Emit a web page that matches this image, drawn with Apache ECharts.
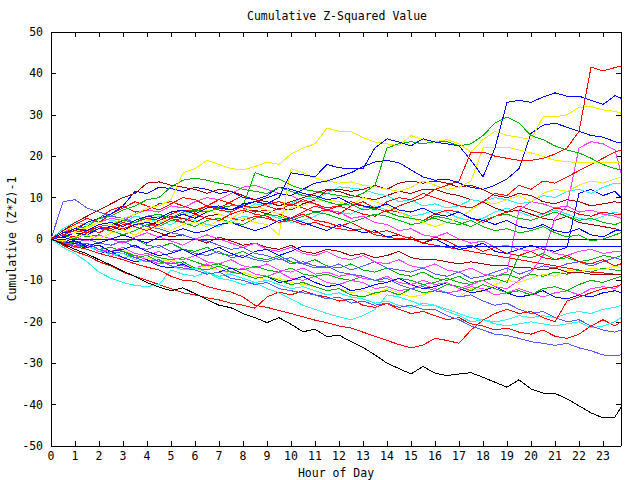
<!DOCTYPE html>
<html lang="en">
<head>
  <meta charset="UTF-8">
  <script src="https://cdn.jsdelivr.net/npm/echarts@6/dist/echarts.min.js"></script>
  <style>
    body { margin: 0; background: #fff; }
    #container { width: 640px; height: 480px; }
    /* gnuplot style: hard pixel lines */
    #container svg path { shape-rendering: crispEdges; }
  </style>
</head>
<body>
  <div id="container"></div>
  <script>
    // hour of day, half-hour steps
    var hours = [0, 0.5, 1, 1.5, 2, 2.5, 3, 3.5, 4, 4.5, 5, 5.5,
      6, 6.5, 7, 7.5, 8, 8.5, 9, 9.5, 10, 10.5, 11, 11.5,
      12, 12.5, 13, 13.5, 14, 14.5, 15, 15.5, 16, 16.5, 17, 17.5,
      18, 18.5, 19, 19.5, 20, 20.5, 21, 21.5, 22, 22.5, 23, 23.5,
      23.75];
    var yTicks = [-50, -40, -30, -20, -10, 0, 10, 20, 30, 40, 50];

    // cumulative (Z*Z)-1, one array per line
    var black1 = [0, -1.2, -2.5, -3.6, -5, -6.3, -7.8, -9, -10.5, -11.6, -12.5, -11.8,
      -13.2, -14.6, -16, -16.6, -18, -19, -20.2, -19, -20.6, -22.4, -21.8, -23.6,
      -23.2, -24.8, -26.2, -28, -30, -31.3, -32.6, -30.8, -32.4, -33, -32.6, -32.3,
      -33.4, -34.6, -35.8, -34, -36.2, -37.2, -37.3, -38.6, -40.3, -42, -43.2, -43,
      -40.6];
    var red42 = [0, 1, 2, 1.5, 3, 2.5, 4, 3, 2, 3.5, 5, 4,
      6, 5, 4.5, 6, 7, 6, 5.5, 4, 5, 6.5, 8, 7,
      6, 8, 9, 7.5, 6.5, 8, 9, 10, 12, 13, 14, 21,
      21, 20, 19.5, 19, 19, 19.5, 20.5, 22, 26, 41.5, 40.6, 41.4,
      41.8];
    var blue34 = [0, 1, 2.5, 2, 3.5, 4, 3, 4.5, 5.5, 5, 6.5, 7,
      6, 7.5, 8, 7, 8.5, 9, 8.5, 10, 16, 15.5, 15, 18,
      17.2, 17, 17, 22, 24.2, 23.4, 22.5, 24.2, 23.4, 23, 22.5, 19,
      15, 22, 33, 33.5, 33, 34.3, 35.3, 34.5, 34.5, 33.5, 32.5, 34.6,
      34];
    var yellow1 = [0, 1, 1.5, 3, 4, 3.5, 5, 6, 7.5, 8, 9.5, 16,
      17, 19, 18, 17, 16.7, 17.5, 18.6, 18, 20.5, 22, 23, 26.8,
      26, 26, 24.5, 23.4, 23, 22.5, 25, 24, 23.5, 24, 23, 21,
      24, 26, 25, 24.6, 24, 29.5, 29.5, 30, 31.8, 32, 31.2, 30.8,
      30.4];
    var green1 = [0, 1, 2, 1.5, 3, 3.5, 4.5, 4, 5.5, 6, 5, 6.5,
      7, 6.5, 7.5, 8, 8, 16, 15, 14.5, 13, 12, 11.5, 11,
      10.5, 10, 11, 13, 22, 23, 23.5, 23, 23.5, 23.5, 22.5, 23,
      25, 28, 29.5, 28, 25, 24, 22.5, 21.5, 20.8, 19.5, 18, 17,
      16.7];
    var yellow2 = [0, -0.5, 0.5, 1, 0, 1.5, 2, 1, 2.5, 3, 2, 3.5,
      4, 3, 4.5, 4, 5, 4, 3.5, 1, 17, 16, 14.7, 14,
      13.5, 13.8, 13, 12.6, 12, 11.5, 12.5, 14, 13, 12, 12.5, 14,
      22, 22, 22.2, 21.5, 20.8, 20, 19, 18.7, 18.4, 18.4, 18.5, 18.4,
      18.4];
    var redLow = [0, -1, -1.8, -2.5, -3.5, -4.2, -5, -6, -6.8, -7.5, -9, -10,
      -10.2, -11.5, -12.2, -12.8, -14, -16, -16.5, -17.3, -18, -18.8, -19.6, -20.2,
      -21, -21.5, -22.5, -23.5, -24.5, -25.5, -26.3, -25.6, -24, -24.5, -25.2, -22,
      -19.6, -18, -17, -18, -17.5, -19, -20, -15, -14, -13, -12, -11.5,
      -11];
    var lightBlue1 = [0, -0.8, -1.5, -1, -2.5, -3.5, -3, -4.5, -5.5, -5, -6.5, -7,
      -7.5, -8.5, -8, -9.5, -10, -11, -10.5, -12, -12.5, -13, -13.5, -14.5,
      -14, -15.5, -15, -16, -15.5, -16.5, -16, -17, -17, -18.5, -19.5, -21,
      -22, -23, -23.3, -24, -24.8, -25.2, -25.7, -25.2, -26.3, -27, -28, -28.2,
      -28];
    var lightBlue2 = [0, 9, 9.5, 7.5, 6.5, 5.5, 5, 4, 3, 2.5, 1.5, 1,
      0, -0.5, -1.5, -2.5, -2, -3.5, -4, -5, -4.5, -6, -7, -6.5,
      -8, -8.5, -9, -10, -9.5, -11, -12, -11.5, -12.5, -13, -14, -13.5,
      -15, -16, -15.5, -17, -18, -17.5, -19, -20, -19.5, -21, -22, -22.5,
      -22];
    var cyan1 = [0, -2, -3.5, -5.5, -8, -9.5, -10.5, -11.2, -11.5, -11, -7.5, -8.5,
      -9, -8, -9.5, -10, -11, -10.5, -12, -13, -14.5, -16, -17, -18,
      -18.8, -19.5, -18.5, -17, -13.5, -14, -15, -16, -16, -17.5, -18.5, -20,
      -19.5, -20.5, -21, -20.5, -20, -20.5, -21, -20.5, -20, -21.5, -21, -20,
      -19];
    var red2 = [0, -1.5, -3, -4, -5.5, -6.5, -8, -9, -10, -11, -12, -13,
      -13.5, -14.2, -14.7, -15.5, -16, -16.7, -14, -12.8, -13.5, -12.5, -13.5, -14,
      -15, -14.5, -16, -16.5, -15.5, -17, -18, -17.5, -18.5, -19.5, -19, -20.5,
      -21, -22, -21.5, -22.5, -23, -22, -23.5, -24, -23, -21, -19.5, -21,
      -20];
    var darkRed1 = [0, 2, 4, 5.5, 7, 8.5, 10, 11, 13.5, 13.8, 13, 12.5,
      12, 11, 12, 11.5, 10.5, 9.5, 9, 8, 9, 10, 11, 12,
      12, 11.5, 12, 13, 12, 13.5, 14, 13.5, 14, 13.5, 12.5, 13,
      12, 10.5, 10, 11, 10.5, 9, 8.5, 9.5, 9, 8, 8.5, 9,
      8.7];
    var green2 = [0, 1, 2.5, 3, 5, 5.5, 7, 8, 9.5, 10, 12.6, 14.2,
      14.7, 14.2, 13.5, 13, 12, 11.5, 11, 12.5, 11.5, 10.5, 10, 9,
      8.2, 8.5, 7, 7.5, 6.5, 5.5, 5, 4.5, 5, 4, 3.5, 4.5,
      3, 2, 2.5, 1.5, 2, 3, 1.5, 0.5, 1, -0.5, 0, 1,
      1.5];
    var blue3 = [0, 1.5, 2, 4, 5, 6, 8, 11.5, 11, 12.5, 12.2, 11.5,
      12.5, 12, 11, 11.5, 10, 9.5, 10.5, 12.5, 12, 11, 10.5, 9.5,
      10, 8.5, 8, 7.5, 8.5, 7, 6.5, 7.5, 6, 5.5, 6.5, 5,
      4.5, 3.5, 4.5, 3, 2.5, 3.5, 2, 1.5, 2.5, 1, 0.5, 2,
      2];
    var blueZero = [0, 0, 0, 0, 0, 0, 0, 0, 0, 0, 0, 0,
      0, 0, 0, 0, 0, 0, 0, 0, 0, 0, 0, 0,
      0, 0, 0, 0, 0, 0, 0, 0, 0, 0, 0, 0,
      0, 0, 0, 0, 0, 0, 0, 0, 0, 0, 0, 0,
      0];
    var blueFlat = [0, -1, -0.5, -2, -1.5, -3, -2.5, -1.5, -3, -4, -3.5, -2.5,
      -4, -3, -2, -3.5, -4.5, -3, -2.5, -4, -3, -1.7, -1.7, -1.7,
      -1.7, -1.7, -1.7, -1.7, -1.7, -1.7, -1.7, -1.7, -1.7, -1.7, -1.7, -1.7,
      -1.7, -1.7, -1.7, -1.7, -1.7, -1.7, -1.7, -1.7, -1.7, -1.7, -1.7, -1.7,
      -1.7];
    var blue2 = [0, 0.5, 1.5, 1, 2.5, 3, 2, 3.5, 4, 3.5, 5, 6,
      5, 6.5, 7.5, 7, 8, 9, 10, 11, 10.5, 12, 13.5, 14,
      15, 16, 17.5, 18.6, 19, 18.4, 16.7, 15, 14.2, 14.5, 13.5, 12.5,
      12, 13, 14.5, 17, 25.5, 27.5, 28, 27, 26, 25, 24.6, 23.5,
      23.2];
    var red3 = [0, 1, 0.5, 2, 3, 2, 3.5, 4, 5, 4.5, 6, 7,
      6.5, 8, 7, 6.5, 8, 7.5, 8.5, 9, 8, 9.5, 8.5, 7.5,
      8, 9, 8, 7, 9, 10, 9.5, 11, 10, 9, 8, 7.5,
      9, 11, 10.5, 13, 12, 14, 13.5, 15, 16.5, 18, 19.5, 21,
      21.5];
    var yellow3 = [0, 2, 3, 2.5, 4, 3.5, 2, 3, 4.5, 4, 5, 6,
      5.5, 7, 6, 5, 6.5, 8, 7, 6, 7.5, 8, 9, 9.5,
      9, 8, 10, 9, 8, 6.5, 5, 4, 3, 4, 5, 7,
      9, 8.5, 9.5, 10.5, 9, 11, 12, 11.5, 13, 14, 13.5, 14.5,
      15];
    var magenta1 = [0, -0.5, -1.5, -1, -2.5, -3, -2, -3.5, -4, -3, -4.5, -5,
      -4, -5.5, -6, -5, -6.5, -7, -6, -7.5, -8, -7, -8.5, -8,
      -9, -8.5, -9.5, -10, -9, -10.5, -11, -10, -11, -10.5, -12, -11,
      -10, -11.5, -12, -10, -8, -4, 5, 8, 22, 23.5, 23, 21.5,
      16];
    var magenta2 = [0, 1, 0.5, -0.5, 1, 0, -1, 0.5, 1.5, 0.5, -0.5, -1.5,
      0, 1, 0, -1, -2, -1, -2.5, -3, -2, -3.5, -4, -3,
      -4.5, -5, -4, -5.5, -6, -5, -6.5, -7, -6, -7.5, -8, -7,
      -8.5, -9, -8, 7, 9, 8.5, 7.5, 8, 6.5, 7, 6, 5.5,
      5];
    var cyan3 = [0, 1, 2, 1.5, 3, 2.5, 4, 3, 4.5, 5.5, 5, 6,
      7, 6.5, 7.5, 6, 7, 8.5, 8, 9, 8.5, 10, 9.5, 11,
      12.6, 12.3, 12, 11, 10.5, 9, 9.5, 8, 8.5, 7.5, 8, 9.5,
      9, 10, 9.5, 8.5, 9, 10.5, 10, 11.5, 12, 11, 12.5, 13.5,
      13.5];
    var cyan4 = [0, -1, -0.5, -2, -2.5, -4, -3.5, -5, -5.5, -5, -6.5, -7.5,
      -7, -8, -9, -8.5, -9.5, -10.5, -10, -11, -12, -11.5, -12.5, -13.5,
      -13, -14, -14.5, -15.5, -15, -16, -16.5, -15.5, -16, -17, -18, -19,
      -19.5, -20, -19.5, -18.5, -19, -18.5, -19, -18, -17.5, -18, -17, -16.5,
      -16];
    var green3 = [0, -0.5, -1.5, -2, -1.5, -3, -3.5, -4.5, -4, -5.5, -6, -5.5,
      -7, -7.5, -6.5, -8, -8.5, -9.5, -9, -10, -11, -10.5, -11.5, -12.5,
      -12, -13.5, -14, -13, -12.5, -13.5, -12, -13, -12.5, -11, -11.5, -12.5,
      -11, -12, -13, -12.5, -13.5, -12, -11.5, -12.5, -11, -10, -10.5, -9.5,
      -9];
    var green4 = [0, 1, 0, 1.5, 2.5, 2, 1, 2, 3.5, 3, 4.5, 4,
      3, 4.5, 5, 4, 3.5, 5, 6, 5.5, 4.5, 5.5, 6.5, 6,
      5, 4, 5, 6, 5.5, 4.5, 3.5, 4, 5.5, 5, 4, 3,
      4.5, 5.5, 6, 5, 4.5, 5.5, 6.5, 5.5, 4.5, 5, 4, 3.5,
      4];
    var red4 = [0, 1.5, 2.5, 4, 5, 7, 8, 6.5, 7, 8.5, 9, 8,
      7, 8, 9.5, 8.5, 7.5, 6.5, 7, 6, 5, 6, 4.5, 4,
      3, 4, 2.5, 1.5, 2, 1, 0, -1, 0.5, -0.5, -2, -1.5,
      -3, -2, -3.5, -4, -3, -4.5, -5, -4, -5.5, -6, -5, -6.5,
      -6];
    var red5 = [0, 2, 3.5, 5, 4, 6, 7.5, 9, 8, 7, 8.5, 10,
      9.5, 8, 7.5, 9, 10.5, 9.5, 8, 7, 8.5, 7.5, 6.5, 7,
      8, 7, 6, 5.5, 7, 6.5, 5, 4.5, 6, 7, 6.5, 5,
      4, 5.5, 6.5, 8, 7, 6, 7.5, 7, 6, 5.5, 6.5, 6,
      6];
    var darkRed2 = [0, -1, 0.5, 1, 0, 1.5, 2, 1, 2.5, 1.5, 0.5, 1,
      0, -1, 0.5, -0.5, -1.5, -1, -2, -2.5, -1.5, -3, -3.5, -2.5,
      -3, -4, -3.5, -4.5, -4, -3, -4.5, -5, -5, -5.5, -6, -5.5,
      -6, -6.5, -6.5, -7, -7, -7.5, -7, -8, -8, -8.5, -8.5, -8.5,
      -8.7];
    var darkRed3 = [0, 1, 2.5, 2, 3.5, 3, 4.5, 4, 3, 4.5, 5.5, 5,
      4, 5.5, 6, 5, 6.5, 7, 6, 7.5, 7, 8.5, 9.4, 11.8,
      11.5, 10.5, 10, 9.5, 10.5, 11.5, 11, 12, 12, 11, 10.5, 9.5,
      9, 7.5, 6.5, 7, 6, 5, 4.5, 5.5, 4, 3.5, 3, 2.5,
      2];
    var magenta3 = [0, -1, -2, -1.5, -3, -3.5, -4.5, -4, -5, -6, -5.5, -6.5,
      -7, -6, -7.5, -8, -7, -8.5, -9, -8, -9.5, -10, -9, -10.5,
      -11, -10, -10.5, -12, -11.5, -12.5, -12, -11, -12, -13, -12.5, -11.5,
      -12, -13.5, -13, -12, -13, -14, -13, -12.5, -13.5, -12, -11.5, -12,
      -11];
    var magenta4 = [0, 1.5, 3, 2.5, 4, 5, 4.5, 6, 7, 6.5, 8, 7.5,
      9, 10, 9.5, 11, 12.5, 13, 12, 11, 10.5, 9, 8.5, 7,
      6.5, 5, 5.5, 4, 3.5, 2, 2.5, 1, 0.5, 1.5, 0, -1,
      -0.5, -2, -1.5, -2.5, -3, -2, -3.5, -4, -3, -2.5, -3.5, -3,
      -3];
    var blue4 = [0, -1.5, -1, -2.5, -3.5, -3, -4.5, -5.5, -5, -6.5, -7, -6,
      -7.5, -8.5, -8, -7, -8.5, -9.5, -9, -10.5, -10, -9, -10.5, -11.5,
      -11, -12.5, -12, -11, -10.5, -9.5, -11, -12, -11.5, -10.5, -12, -13,
      -12.5, -11.5, -13, -14, -13.5, -12.5, -14, -14.5, -13.5, -14, -13, -12.5,
      -13];
    var blue5 = [0, 0.5, -0.5, -1.5, -1, 0, 1, 0, -1, 0.5, 1.5, 2.5,
      1.5, 2, 3.5, 4, 3, 2, 3, 4.5, 5, 4, 3, 2,
      3.5, 2.5, 1.5, 2, 0.5, 1, 0, -1, 0, -1.5, -2.5, -2,
      -1, -3, -3.5, -2.5, -1.5, -2.5, -3, -2, 11, 12, 10.5, 11.5,
      10];
    var green5 = [0, -0.5, -1, -2, -2.5, -2, -3, -4, -3.5, -4.5, -5, -4.5,
      -5.5, -6.5, -6, -7, -7.5, -6.5, -7.5, -8, -7, -8.5, -9, -8.5,
      -9.5, -10, -9, -10, -10.5, -9.5, -10, -11, -10.5, -9.5, -10.5, -11,
      -10, -9.5, -10.5, -4, -4.5, -3.5, -5, -4.5, -5.5, -5, -4, -4.5,
      -4];
    var yellow4 = [0, -0.5, -1.5, -1, -2.5, -3, -2.5, -4, -4.5, -5.5, -5, -6,
      -7, -6.5, -7.5, -8.5, -8, -9, -10, -9.5, -10.5, -11, -11.5, -12.5,
      -12, -13, -12.5, -13.5, -12, -13, -14, -13.5, -12.5, -13, -14, -12,
      -12.5, -11, -10, -10.5, -9.5, -8.5, -9, -7.5, -8, -7, -7.5, -6.5,
      -7];
    var red6 = [0, 0.5, 1.5, 2.5, 1.5, 3, 2.5, 3.5, 4, 3, 4.5, 5,
      4, 5.5, 6, 5, 4.5, 5.5, 5, 4, 4.5, 3.5, 4, 3,
      2.5, 2, 2.5, 1, 0.5, 0, 0.5, -1, -1.5, -2, -2.5, -3,
      -3.5, -4, -4.5, -5, -5.5, -6, -6.5, -7, -7.5, -8, -8.2, -8.5,
      -8.7];
    var cyan5 = [0, 2.5, 4, 3.5, 5, 4.5, 4, 5.5, 5, 4, 3.5, 5,
      4.5, 3.5, 3, 4.5, 5.5, 5, 6, 5, 4, 4.5, 5.5, 7,
      6.5, 6, 7.5, 8, 7, 6.5, 5.5, 6, 7, 6.5, 5, 4.5,
      5, 6.5, 7.5, 6.5, 5.5, 6, 7, 6, 5, 4.5, 5.5, 6.5,
      6];
    var lightBlue3 = [0, -0.5, -1, 0, -1, -1.5, -0.5, -2, -2.5, -1.5, -3, -2.5,
      -3.5, -4, -3, -4.5, -4, -5, -5.5, -4.5, -6, -5.5, -6.5, -7,
      -6, -7.5, -6.5, -5.5, -7, -7.5, -8, -7, -8.5, -9, -8, -9.5,
      -9, -8, -7, -8.5, -7.5, -6.5, -7, -6, -5.5, -6.5, -5.5, -4.5,
      -5];
    var green6 = [0, 1, 1.5, 0.5, 1, 0, -1, 0, -1.5, -2, -1, -2.5,
      -3, -2, -3.5, -4, -3, -4.5, -5, -4, -5.5, -6, -5, -6.5,
      -7, -6, -7.5, -8, -7, -8.5, -9, -8, -9.5, -10, -9, -10.5,
      -10, -9, -8.5, -9.5, -8.5, -9, -8, -8.5, -7.5, -8, -7, -7.5,
      -7.5];

    var RED = '#ff0000', GREEN = '#00b000', BLUE = '#0000ff', MAGENTA = '#ff40ff',
      CYAN = '#30f0f0', DARKRED = '#a00000', YELLOW = '#f0f000', BLACK = '#000000',
      LBLUE = '#5a5aff';

    var lines = [
      [magenta3, MAGENTA], [green6, GREEN], [lightBlue3, LBLUE], [cyan5, CYAN],
      [red6, RED], [yellow4, YELLOW], [green5, GREEN], [blue5, BLUE],
      [blue4, BLUE], [magenta4, MAGENTA], [darkRed3, DARKRED], [darkRed2, DARKRED],
      [red5, RED], [red4, RED], [green4, GREEN], [green3, GREEN],
      [cyan4, CYAN], [cyan3, CYAN], [magenta2, MAGENTA], [magenta1, MAGENTA],
      [yellow3, YELLOW], [red3, RED], [blue2, BLUE], [blueFlat, BLUE],
      [blueZero, BLUE], [blue3, BLUE], [green2, GREEN], [darkRed1, DARKRED],
      [red2, RED], [cyan1, CYAN], [lightBlue2, LBLUE], [lightBlue1, LBLUE],
      [redLow, RED], [yellow2, YELLOW], [green1, GREEN], [yellow1, YELLOW],
      [blue34, BLUE], [red42, RED], [black1, BLACK]
    ];

    var font = 'DejaVu Sans Mono';
    var chart = echarts.init(document.getElementById('container'), null, { renderer: 'svg' });

    var series = lines.map(function (l, i) {
      return {
        type: 'line',
        name: 's' + i,
        showSymbol: false,
        symbol: 'none',
        lineStyle: { width: 1, color: l[1] },
        data: hours.map(function (h, j) { return [h, l[0][j]]; })
      };
    });

    var axisCommon = {
      type: 'value',
      axisLine: { show: true, onZero: false, lineStyle: { color: '#000', width: 1 } },
      axisTick: { show: true, inside: true, length: 5, lineStyle: { color: '#000' } },
      splitLine: { show: false }
    };

    var option = {
      animation: false,
      backgroundColor: '#fff',
      title: {
        text: 'Cumulative Z-Squared Value',
        left: 242,
        top: 5,
        textStyle: { fontFamily: font, fontSize: 11.5, fontWeight: 'normal', color: '#000' }
      },
      // y axis title drawn by hand so it sits where gnuplot puts it
      graphic: [{
        type: 'text',
        x: 12,
        y: 239,
        rotation: Math.PI / 2,
        style: {
          text: 'Cumulative (Z*Z)-1',
          font: '11.5px "DejaVu Sans Mono"',
          fill: '#000',
          textAlign: 'center',
          textVerticalAlign: 'middle'
        }
      }],
      grid: { left: 51, right: 19, top: 32, bottom: 34, outerBoundsMode: 'none' },
      xAxis: [
        Object.assign({}, axisCommon, {
          position: 'bottom', min: 0, max: 23.75, interval: 1,
          name: 'Hour of Day', nameLocation: 'middle', nameGap: 17,
          nameTextStyle: { fontFamily: font, fontSize: 11.5, color: '#000' },
          axisLabel: {
            fontFamily: font, fontSize: 11.5, color: '#000', margin: 4,
            showMaxLabel: false
          }
        }),
        Object.assign({}, axisCommon, {
          position: 'top', min: 0, max: 23.75, interval: 1,
          axisLabel: { show: false }
        })
      ],
      yAxis: [
        Object.assign({}, axisCommon, {
          position: 'left', min: yTicks[0], max: yTicks[yTicks.length - 1], interval: 10,
          axisLabel: { fontFamily: font, fontSize: 11.5, color: '#000', margin: 8 }
        }),
        Object.assign({}, axisCommon, {
          position: 'right', min: yTicks[0], max: yTicks[yTicks.length - 1], interval: 10,
          axisLabel: { show: false }
        })
      ],
      series: series
    };

    chart.setOption(option);
  </script>
</body>
</html>
